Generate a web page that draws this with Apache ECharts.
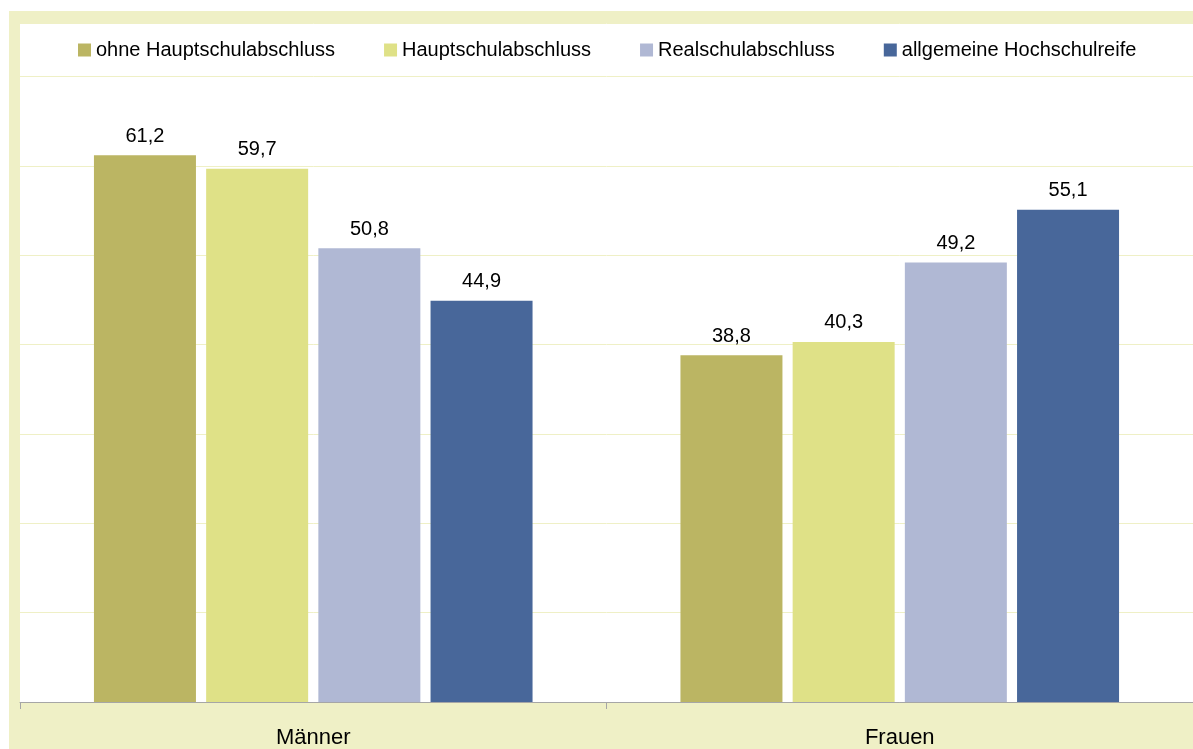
<!DOCTYPE html>
<html>
<head>
<meta charset="utf-8">
<script src="https://cdn.jsdelivr.net/npm/echarts@6/dist/echarts.min.js"></script>
<style>
html,body{margin:0;padding:0;background:#fff;}
#chart{width:1193px;height:749px;}
</style>
</head>
<body>
<div id="chart"></div>
<script>
const categories = ['Männer', 'Frauen'];
const seriesNames = ['ohne Hauptschulabschluss', 'Hauptschulabschluss', 'Realschulabschluss', 'allgemeine Hochschulreife'];
const ohneHauptschul = [61.2, 38.8];
const hauptschul = [59.7, 40.3];
const realschul = [50.8, 49.2];
const hochschulreife = [44.9, 55.1];
const seriesValues = [ohneHauptschul, hauptschul, realschul, hochschulreife];
const colors = ['#BBB563', '#DFE187', '#B0B8D4', '#48679A'];

const chart = echarts.init(document.getElementById('chart'));
const font = 'Liberation Sans, Arial, sans-serif';
chart.setOption({
  animation: false,
  backgroundColor: '#fff',
  graphic: [
    {type: 'rect', z: -20, silent: true, shape: {x: 9, y: 11, width: 1184, height: 738}, style: {fill: '#EFF0C6'}},
    {type: 'rect', z: -19, silent: true, shape: {x: 20, y: 23, width: 1173, height: 679}, style: {fill: '#FFFFFF'}}
  ],
  grid: {left: 20, right: -4, top: 23, bottom: 47, containLabel: false},
  legend: {
    left: 78, top: 40, padding: 0,
    itemWidth: 13, itemHeight: 13, itemGap: 49,
    icon: 'rect',
    textStyle: {fontSize: 20, color: '#000', fontFamily: font},
    data: seriesNames
  },
  xAxis: {
    type: 'category',
    data: categories,
    axisLine: {lineStyle: {color: '#A6A6A6', width: 1}},
    axisTick: {show: true, length: 7, lineStyle: {color: '#A6A6A6'}},
    axisLabel: {fontSize: 22, color: '#000', fontFamily: font, margin: 25}
  },
  yAxis: {
    type: 'value', min: 0, max: 76, interval: 10,
    axisLine: {show: false}, axisTick: {show: false}, axisLabel: {show: false},
    splitLine: {lineStyle: {color: '#EFF0C6', width: 1}}
  },
  series: seriesValues.map((vals, i) => ({
    name: seriesNames[i],
    type: 'bar',
    data: vals,
    barWidth: 102,
    barGap: '10%',
    itemStyle: {color: colors[i]},
    label: {
      show: true, position: 'top', distance: 9,
      fontSize: 20, color: '#000', fontFamily: font,
      formatter: p => p.value.toFixed(1).replace('.', ',')
    }
  }))
});
</script>
</body>
</html>
